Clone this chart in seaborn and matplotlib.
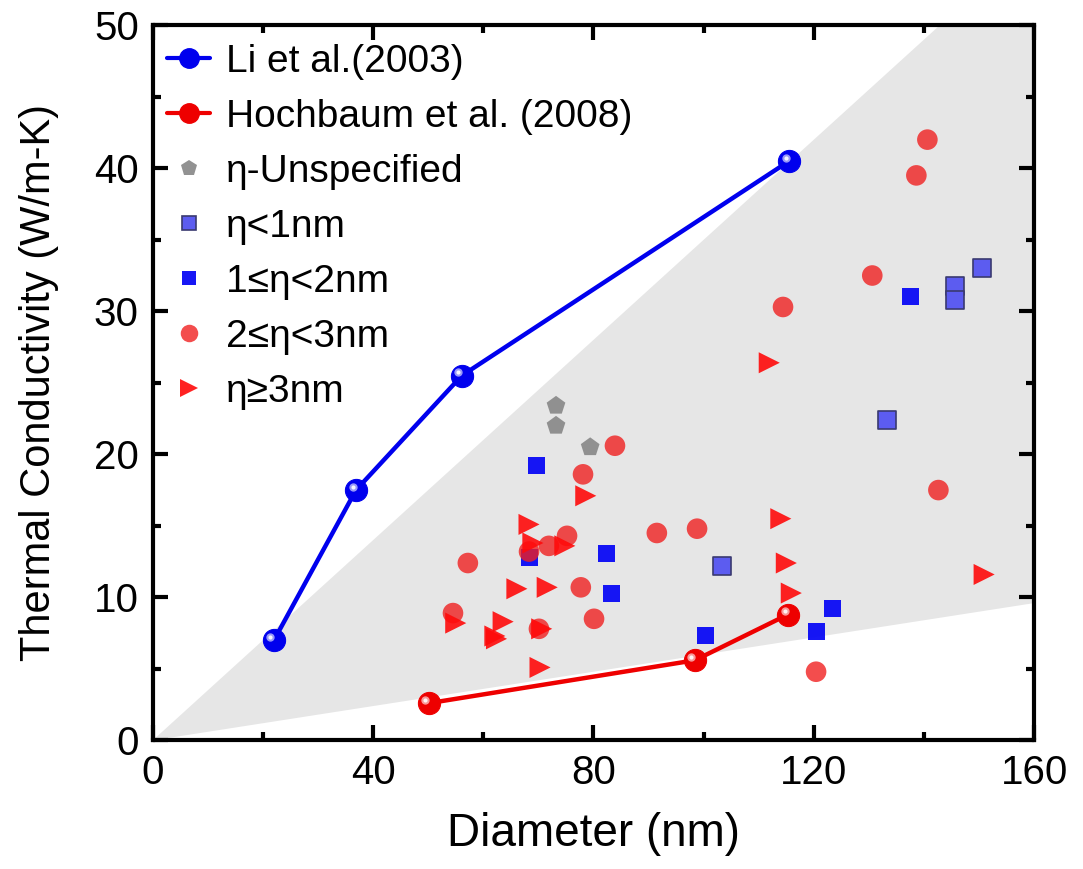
import matplotlib
matplotlib.use("Agg")
import matplotlib.pyplot as plt
import matplotlib.transforms as mtransforms
from matplotlib.lines import Line2D
from matplotlib import font_manager
import numpy as np
import pandas as pd
import seaborn as sns

# Reference series
li_d = [22.0, 36.9, 56.1, 115.5]
li_k = [7.0, 17.5, 25.5, 40.5]
hoch_d = [50.1, 98.4, 115.3]
hoch_k = [2.6, 5.6, 8.8]

# Roughness groups
unspec_d = [73.2, 73.2, 79.4]
unspec_k = [23.4, 22.0, 20.5]

lt1_d = [103.3, 133.3, 145.7, 145.7, 150.6]
lt1_k = [12.2, 22.4, 31.8, 30.8, 33.0]

r12_d = [69.6, 68.3, 82.3, 83.2, 100.4, 120.4, 123.3, 137.5]
r12_k = [19.2, 12.8, 13.1, 10.3, 7.3, 7.6, 9.2, 31.0]

r23_d = [83.9, 78.1, 75.2, 71.9, 68.3, 57.2, 91.5, 98.8, 77.7, 54.5, 70.1, 80.1,
         142.6, 120.4, 140.6, 138.6, 130.6, 114.4]
r23_k = [20.6, 18.6, 14.3, 13.6, 13.2, 12.4, 14.5, 14.8, 10.7, 8.9, 7.8, 8.5,
         17.5, 4.8, 42.0, 39.5, 32.5, 30.3]

ge3_d = [78.6, 68.3, 69.0, 74.8, 66.1, 71.6, 55.0, 63.6, 62.1, 62.4, 70.6, 70.3,
         114.0, 115.0, 115.9, 150.9, 111.9]
ge3_k = [17.1, 15.1, 13.8, 13.6, 10.6, 10.7, 8.2, 8.3, 7.3, 7.1, 7.8, 5.1,
         15.5, 12.4, 10.3, 11.6, 26.4]

# Shaded band bounds (W/m-K per nm along the edges)
band_upper_slope = 0.35
band_lower_slope = 0.06

sns.set_theme(style="ticks")
names = [f.name for f in font_manager.fontManager.ttflist]
main_font = "Liberation Sans" if "Liberation Sans" in names else "DejaVu Sans"
plt.rcParams["font.family"] = [main_font, "DejaVu Sans"]
for key in ("text.color", "axes.labelcolor", "xtick.color", "ytick.color",
            "xtick.labelcolor", "ytick.labelcolor"):
    plt.rcParams[key] = "black"

fig = plt.figure(figsize=(10.83, 8.69), dpi=100)
ax = fig.add_axes([0.141, 0.148, 0.814, 0.823])

xmax, ymax = 160, 50
# Gray wedge
xs = np.array([0, xmax, xmax, ymax / band_upper_slope])
ys = np.array([0, band_lower_slope * xmax, ymax, ymax])
ax.fill(xs, ys, color="#e6e6e6", lw=0, zorder=0)

groups = [
    ("η-Unspecified", unspec_d, unspec_k),
    ("η<1nm", lt1_d, lt1_k),
    ("1≤η<2nm", r12_d, r12_k),
    ("2≤η<3nm", r23_d, r23_k),
    ("η≥3nm", ge3_d, ge3_k),
]
df = pd.concat([pd.DataFrame({"d": d, "k": k, "group": g}) for g, d, k in groups],
               ignore_index=True)

styles = {
    "η-Unspecified": dict(marker="p", color="#8c8c8c", s=200, alpha=0.95, edgecolor="none", lw=0),
    "η<1nm": dict(marker="s", color="#5c5cf0", s=150, alpha=1.0, edgecolor="#3a3a70", lw=1.2),
    "1≤η<2nm": dict(marker="s", color="#0a0af5", s=150, alpha=0.95, edgecolor="none", lw=0),
    "2≤η<3nm": dict(marker="o", color="#f02020", s=220, alpha=0.8, edgecolor="none", lw=0),
    "η≥3nm": dict(marker=">", color="#ff0a0a", s=230, alpha=0.9, edgecolor="none", lw=0),
}
order = ["η<1nm", "1≤η<2nm", "η-Unspecified", "2≤η<3nm", "η≥3nm"]
for i, g in enumerate(order):
    st = styles[g]
    sns.scatterplot(data=df[df.group == g], x="d", y="k", ax=ax, marker=st["marker"],
                    color=st["color"], s=st["s"], alpha=st["alpha"],
                    edgecolor=st["edgecolor"], linewidth=st["lw"], zorder=3 + i,
                    legend=False)

# Literature curves with sphere-like markers
lit = pd.concat([
    pd.DataFrame({"d": li_d, "k": li_k, "src": "Li et al.(2003)"}),
    pd.DataFrame({"d": hoch_d, "k": hoch_k, "src": "Hochbaum et al. (2008)"}),
], ignore_index=True)
lit_colors = {"Li et al.(2003)": "#0000ee", "Hochbaum et al. (2008)": "#ee0000"}
hl = mtransforms.offset_copy(ax.transData, fig=fig, x=-2.5, y=2.5, units="points")
for src, c in lit_colors.items():
    sub = lit[lit.src == src]
    sns.lineplot(data=sub, x="d", y="k", ax=ax, color=c, lw=3.2, sort=False,
                 marker="o", markersize=16, markeredgecolor=c, markerfacecolor=c,
                 zorder=10, legend=False)
    ax.plot(sub.d, sub.k, ls="none", marker="o", ms=6, mfc="white", mec="none",
            alpha=0.6, transform=hl, zorder=11)
    ax.plot(sub.d, sub.k, ls="none", marker="o", ms=3, mfc="white", mec="none",
            alpha=0.9, transform=hl, zorder=12)

ax.set_xlim(0, xmax)
ax.set_ylim(0, ymax)
ax.set_xticks([0, 40, 80, 120, 160])
ax.set_xticks([20, 60, 100, 140], minor=True)
ax.set_yticks([0, 10, 20, 30, 40, 50])
ax.set_yticks([5, 15, 25, 35, 45], minor=True)
ax.tick_params(which="both", direction="in", top=True, right=True, width=3,
               colors="black")
ax.tick_params(which="major", length=11, labelsize=29, pad=10)
ax.tick_params(which="minor", length=6)
for sp in ax.spines.values():
    sp.set_linewidth(3)
    sp.set_color("black")
    sp.set_visible(True)

ax.set_xlabel("Diameter (nm)", fontsize=33, labelpad=14)
ax.set_ylabel("Thermal Conductivity (W/m-K)", fontsize=30, labelpad=25)

handles = [
    Line2D([], [], color="#0000ee", lw=3, marker="o", ms=14, label="Li et al.(2003)"),
    Line2D([], [], color="#ee0000", lw=3, marker="o", ms=14, label="Hochbaum et al. (2008)"),
]
for g in ["η-Unspecified", "η<1nm", "1≤η<2nm", "2≤η<3nm", "η≥3nm"]:
    st = styles[g]
    handles.append(Line2D([], [], ls="none", marker=st["marker"], color=st["color"],
                          alpha=st["alpha"], ms=np.sqrt(st["s"]) * 0.85,
                          mec=st["edgecolor"] if st["edgecolor"] != "none" else st["color"],
                          mew=st["lw"], label=g))
ax.legend(handles=handles, loc="upper left", frameon=False, fontsize=28,
          handlelength=1.1, handletextpad=0.4, labelspacing=0.49,
          borderaxespad=0.2, bbox_to_anchor=(-0.01, 1.007))

fig.savefig("out.png", dpi=100)
